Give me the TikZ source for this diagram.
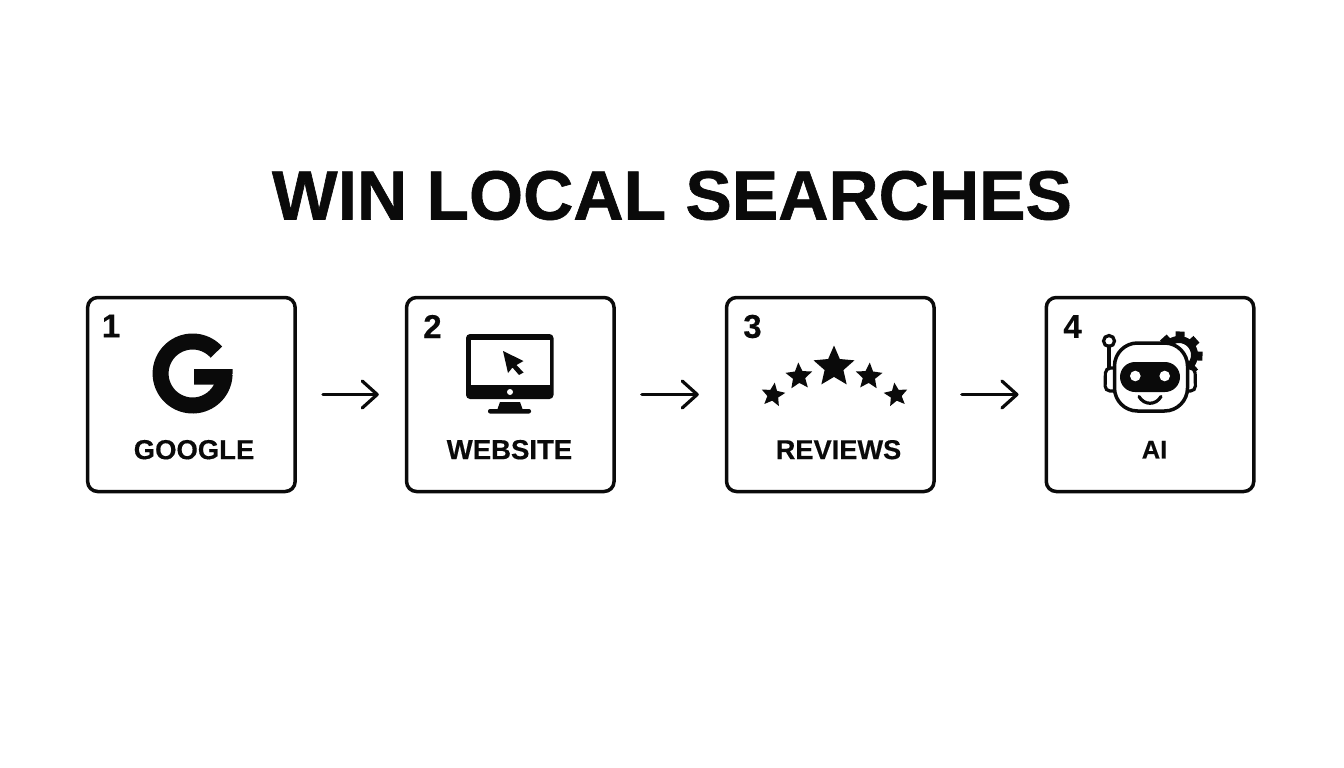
\documentclass[tikz,border=0pt]{standalone}
\usepackage{fontspec}
\usepackage{graphicx}
\setmainfont{Liberation Sans}
\newfontfamily\heavy[BoldFeatures={FakeBold=0.9}]{Liberation Sans}
\newfontfamily\semi[BoldFeatures={FakeBold=0.4}]{Liberation Sans}
\usetikzlibrary{arrows.meta}
\newcommand{\fitbox}[2]{\resizebox{#1pt}{!}{\semi\bfseries #2}}
\newcommand{\fivestar}[4]{% x y radius rotation
  \fill[ink,rotate around={#4:(#1,#2)}] plot[samples at={0,...,9}] ({#1+#3*(1-0.54*mod(\x,2))*sin(36*\x)},{#2-#3*(1-0.54*mod(\x,2))*cos(36*\x)}) -- cycle;}
\definecolor{ink}{HTML}{0A0A0A}
\tikzset{
  card/.style={draw=ink,line width=3.5pt,rounded corners=10pt,minimum width=207.5pt,minimum height=194pt,fill=white,inner sep=0pt},
  flow/.style={draw=ink,line width=3.2pt,line cap=round,shorten <=26pt,shorten >=26pt,-{Straight Barb[length=15pt,width=27pt,line width=3.2pt,round]}},
  txt/.style={inner sep=0pt,outer sep=0pt,text=ink},
  numeral/.style={txt,font=\fontsize{33}{33}\selectfont\semi\bfseries},
  icon/.style={draw=ink,line width=3.5pt,fill=white}
}
\begin{document}
\begin{tikzpicture}[x=1pt,y=-1pt]
\useasboundingbox (0,0) rectangle (1344,768);
\fill[white] (0,0) rectangle (1344,768);
\node[txt] (title) at (672,195.5) {\resizebox{800pt}{!}{\heavy\bfseries WIN LOCAL SEARCHES}};
\node[card] (b1) at (191.4,394.5) {};
\node[card] (b2) at (510.3,394.5) {};
\node[card] (b3) at (830.3,394.5) {};
\node[card] (b4) at (1150,394.5) {};
\draw[flow] (b1.east) -- (b2.west);
\draw[flow] (b2.east) -- (b3.west);
\draw[flow] (b3.east) -- (b4.west);
\node[numeral] (n1) at (111,326) {1};
\node[numeral] (n2) at (432.5,326.5) {2};
\node[numeral] (n3) at (752.5,326.5) {3};
\node[numeral] (n4) at (1072.5,326.5) {4};
\node[txt] (l1) at (194,449.7) {\fitbox{120.5}{GOOGLE}};
\node[txt] (l2) at (509.5,449.7) {\fitbox{125.5}{WEBSITE}};
\node[txt] (l3) at (838.5,449.7) {\fitbox{125.5}{REVIEWS}};
\node[txt] (l4) at (1154.5,449.7) {\fitbox{25.5}{AI}};
% Google G
\draw[ink,line width=16pt] plot[domain=42:358,samples=70] ({192.6+32*cos(\x)},{373.5-32*sin(\x)});
\fill[ink] (194.2,369) -- (232.5,369) -- (232.5,374) -- (225,384.5) -- (194.2,384.5) -- cycle;
% Monitor
\fill[ink,rounded corners=4pt] (466,334) rectangle (553.5,399);
\fill[white] (471,340) rectangle (549.5,385);
\fill[white] (510,392) circle (3);
\fill[ink] (500,402) -- (520,402) -- (522.5,409) -- (497.5,409) -- cycle;
\fill[ink,rounded corners=2pt] (488,409) rectangle (531,413.5);
\fill[ink] (503,351) -- (523.5,361) -- (516.5,365) -- (523.5,372.5) -- (519,375) -- (512.5,367.5) -- (508,373) -- cycle;
% Stars
\fivestar{834}{367}{21.5}{0}
\fivestar{799}{376.5}{14}{3}
\fivestar{869}{376.5}{14}{-3}
\fivestar{773}{395}{12.5}{-8}
\fivestar{896}{395}{12.5}{8}
% Robot
\draw[ink,line width=7pt] (1179,355) circle (15.5);
\foreach \a in {-48,-3,42,87,132,177}
  \draw[ink,line width=9pt] ({1179+17*cos(\a)},{355-17*sin(\a)}) -- ({1179+23.5*cos(\a)},{355-23.5*sin(\a)});
\draw[ink,line width=3.2pt,line cap=round] (1109,346) -- (1109,368);
\draw[ink,line width=3.2pt] (1109,341) circle (5.5);
\draw[icon,line width=3.2pt,rounded corners=5pt] (1114,368) -- (1105.5,368) -- (1105,391) -- (1114,391);
\draw[icon,line width=3.2pt,rounded corners=5pt] (1186,368) -- (1195,368) -- (1195.5,391) -- (1186,391);
\draw[icon,rounded corners=23pt] (1114.5,343) rectangle (1187.5,411);
\fill[ink,rounded corners=15pt] (1120,362) rectangle (1180,392);
\fill[white] (1135.3,376) circle (5.3);
\fill[white] (1164.7,376) circle (5.3);
\draw[ink,line width=3.2pt,line cap=round] (1139,396.5) .. controls (1144,405.5) and (1156,405.5) .. (1161,396.5);
\end{tikzpicture}
\end{document}
